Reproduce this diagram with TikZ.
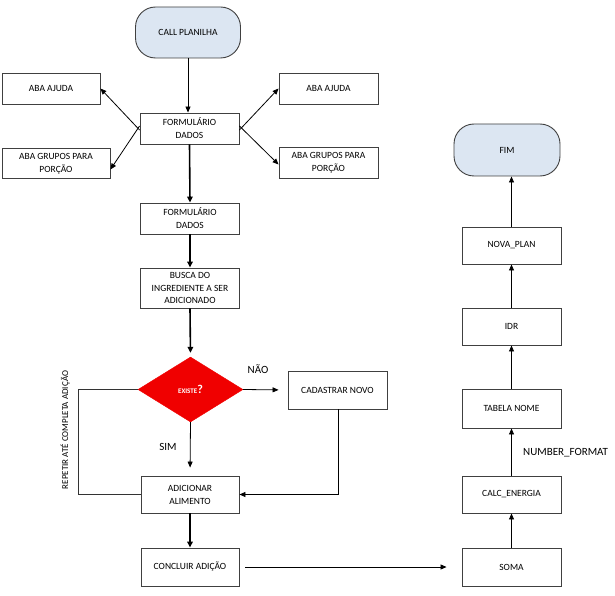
\documentclass[tikz,border=0pt]{standalone}
\usepackage{fontspec}
\setmainfont{Carlito}
\usetikzlibrary{arrows.meta,shapes.geometric}
\definecolor{termfill}{HTML}{DCE6F2}
\definecolor{boxline}{HTML}{404040}
\definecolor{dred}{HTML}{F00000}
\tikzset{
  box/.style={draw=boxline, line width=0.9pt, fill=white, minimum width=99pt, minimum height=31pt,
    inner sep=1pt, align=center, font=\fontsize{9.5}{13}\selectfont},
  term/.style={draw=boxline, line width=0.9pt, fill=termfill, rounded corners=20pt,
    minimum width=105pt, minimum height=51pt, align=center, font=\fontsize{9.5}{13}\selectfont},
  dec/.style={diamond, fill=dred, draw=dred, minimum width=105pt, minimum height=65pt, inner sep=0pt,
    text=white},
  arr/.style={-{Triangle[length=6pt,width=5pt]}, line width=0.8pt, black},
  thickarr/.style={-{Triangle[length=6pt,width=5.5pt]}, line width=1.6pt, black},
  plain/.style={line width=0.8pt, black!80},
  lbl/.style={font=\fontsize{11}{13}\selectfont, inner sep=0pt}
}
\begin{document}
\begin{tikzpicture}[x=1pt,y=-1pt]
\useasboundingbox (0,0) rectangle (615,596);
% left column
\node[term] (call) at (188,32.5) {CALL PLANILHA};
\node[box] (form1) at (189.5,128.5) {FORMULÁRIO\\DADOS};
\node[box, minimum width=98pt] (ajL) at (51,88.5) {ABA AJUDA};
\node[box, minimum width=108pt, minimum height=30pt] (grL) at (56,163.5) {ABA GRUPOS PARA\\PORÇÃO};
\node[box] (ajR) at (328.5,88.5) {ABA AJUDA};
\node[box] (grR) at (328.5,162.5) {ABA GRUPOS PARA\\PORÇÃO};
\node[box] (form2) at (190,218.5) {FORMULÁRIO\\DADOS};
\node[box, minimum height=40pt, font=\fontsize{9.5}{12.5}\selectfont] (busca) at (190,288) {BUSCA DO\\INGREDIENTE A SER\\ADICIONADO};
\node[dec] (dec) at (190.5,389.5) {\raisebox{0.5pt}{\fontsize{7}{8}\selectfont\bfseries EXISTE}{\fontsize{12}{12}\selectfont\bfseries ?}};
\node[box, minimum height=38pt] (cad) at (337.5,390) {CADASTRAR NOVO};
\node[box, minimum width=98pt, minimum height=37pt] (adic) at (190,494.5) {ADICIONAR\\ALIMENTO};
\node[box, minimum width=98pt, minimum height=38pt] (concl) at (190,567) {CONCLUIR ADIÇÃO};
% right column
\node[box, minimum height=38pt] (soma) at (511.5,567) {SOMA};
\node[box, minimum height=37pt] (calc) at (511.5,494.5) {CALC\_ENERGIA};
\node[box, minimum height=39pt] (tab) at (511.5,408.5) {TABELA NOME};
\node[box, minimum height=37pt] (idr) at (511.5,326.5) {IDR};
\node[box, minimum height=37pt] (nova) at (511.5,245.5) {NOVA\_PLAN};
\node[term, minimum width=106pt, minimum height=52pt] (fim) at (507,150) {FIM};
% labels
\node[lbl] (nao) at (258,369) {NÃO};
\node[lbl] (sim) at (168,447) {SIM};
\node[lbl, anchor=west] (nf) at (523,453) {NUMBER\_FORMAT};
\node[font=\fontsize{9}{10}\selectfont, rotate=90, inner sep=0pt] (rep) at (65,430) {REPETIR ATÉ COMPLETA ADIÇÃO};
% coordinates
\coordinate (loopx) at (78,0);
\coordinate (cadx) at (338,0);
% connectors
\draw[arr] (call.south) -- (call.south |- form1.north);
\draw[arr] ([yshift=-1.5pt]form1.west) -- (ajL.east);
\draw[arr] ([yshift=2.5pt]form1.west) -- ([yshift=-6pt]grL.east);
\draw[arr] ([yshift=-1.5pt]form1.east) -- (ajR.west);
\draw[arr] ([yshift=2.5pt]form1.east) -- ([yshift=-2pt]grR.west);
\draw[thickarr] (form1.south) -- (form2.north);
\draw[thickarr] (form2.south) -- (busca.north);
\draw[thickarr, shorten >=4pt] (busca.south) -- (dec.north);
\draw[arr, shorten >=9pt] (dec.east) -- (cad.west);
\draw[arr, shorten >=8pt] (dec.south) -- (adic.north);
\draw[plain] (dec.west) -- (dec.west -| loopx) -- (adic.west -| loopx) -- (adic.west);
\draw[arr] (cad.south -| cadx) -- (adic.east -| cadx) -- (adic.east);
\draw[thickarr] (adic.south) -- (concl.north);
\draw[arr, shorten <=6pt, shorten >=15pt] (concl.east) -- (soma.west);
\draw[arr] (soma.north) -- (calc.south);
\draw[arr] (calc.north) -- (tab.south);
\draw[arr] (tab.north) -- (idr.south);
\draw[arr] (idr.north) -- (nova.south);
\draw[arr] (nova.north) -- (nova.north |- fim.south);
\end{tikzpicture}
\end{document}
